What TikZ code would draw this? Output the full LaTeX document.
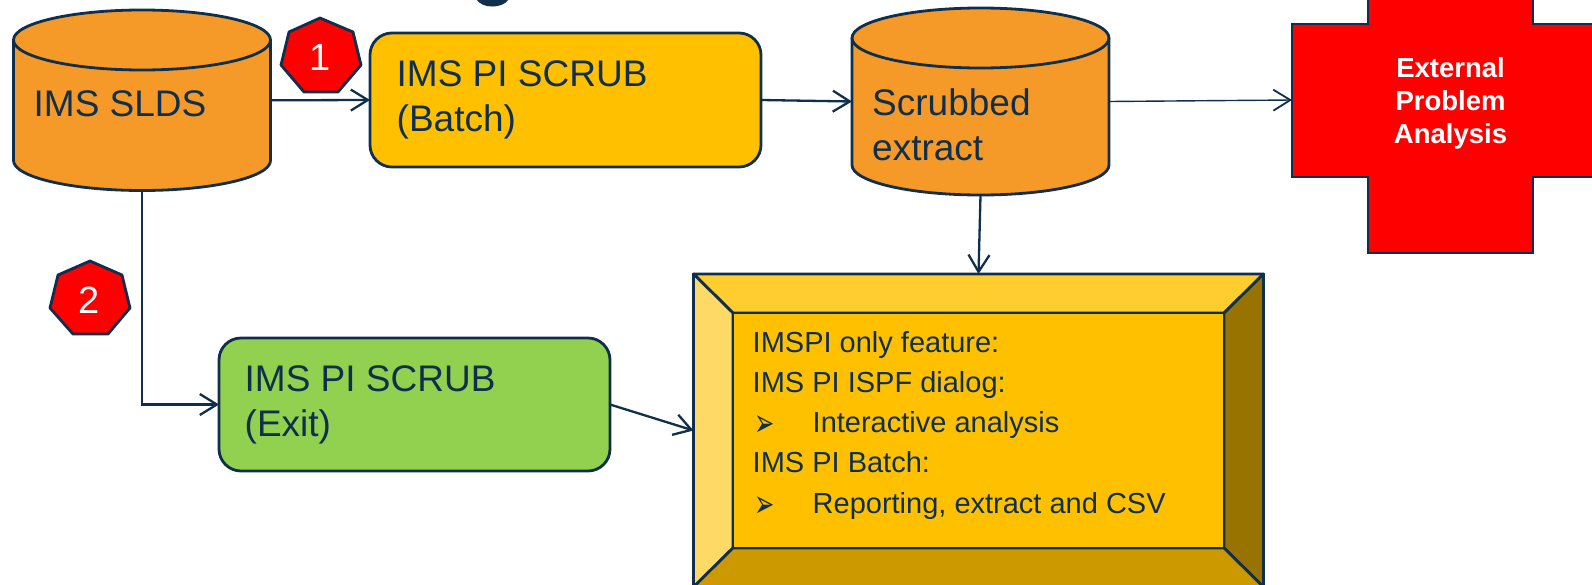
\documentclass[tikz,border=0pt]{standalone}
\usepackage{fontspec}
\setmainfont{Liberation Sans}
\newfontfamily\symfont{DejaVu Sans}
\usetikzlibrary{arrows.meta,shapes.geometric}
\definecolor{ink}{HTML}{0F2F4C}
\definecolor{cylfill}{HTML}{F59A28}
\definecolor{amber}{HTML}{FFC000}
\definecolor{leaf}{HTML}{92D050}
\definecolor{bevtop}{HTML}{FFCD2E}
\definecolor{bevleft}{HTML}{FFD966}
\definecolor{bevright}{HTML}{997300}
\definecolor{bevbottom}{HTML}{CC9A00}
\tikzset{
  x=1pt,y=-1pt,
  outline/.style={draw=ink,line width=2.8pt,line join=round},
  slot/.style={inner sep=0pt,outer sep=0pt,draw=none},
  roundbox/.style={outline,rounded corners=22pt,inner sep=0pt,outer sep=0pt},
  link/.style={draw=ink,line width=2.3pt,-{Straight Barb[length=17pt,width=21pt,line width=2.3pt]}},
  thinlink/.style={draw=ink,line width=1.4pt,-{Straight Barb[length=17pt,width=21pt,line width=1.8pt]}},
  big/.style={font=\fontsize{37}{37}\selectfont,text=ink,inner sep=0pt,anchor=base west},
  mid/.style={font=\fontsize{29}{29}\selectfont,text=ink,inner sep=0pt,anchor=base west},
  bullet/.style={font=\symfont\fontsize{27}{27}\selectfont,text=ink,inner sep=0pt,anchor=base west},
  crosstext/.style={font=\fontsize{27.5}{27.5}\selectfont\bfseries,text=white,inner sep=0pt,anchor=base},
  badgetext/.style={font=\fontsize{38}{38}\selectfont,text=white,inner sep=0pt,anchor=base},
}
\begin{document}
\begin{tikzpicture}
\useasboundingbox (0,0) rectangle (1592,584);
\clip (0,0) rectangle (1592,584);
% cropped descender of the title
\fill[ink] (477,0) .. controls (480,4) and (485,6.5) .. (492,6.5) .. controls (500,6.5) and (505,4) .. (508,0) -- cycle;

% cylinder 1
\draw[outline,fill=cylfill] (13.5,40) -- (13.5,160.5) arc[start angle=180,end angle=360,x radius=128.5pt,y radius=30pt]
   -- (270.5,40) arc[start angle=0,end angle=180,x radius=128.5pt,y radius=30pt] -- cycle;
\draw[outline] (13.5,40) arc[start angle=180,end angle=360,x radius=128.5pt,y radius=30pt];
\node[slot,minimum width=257pt,minimum height=181pt] (slds) at (142,100.3) {};
\node[big] (sldst) at (33.5,116) {IMS SLDS};

% cylinder 2
\draw[outline,fill=cylfill] (852,38) -- (852,165) arc[start angle=180,end angle=360,x radius=128.5pt,y radius=30pt]
   -- (1109,38) arc[start angle=0,end angle=180,x radius=128.5pt,y radius=30pt] -- cycle;
\draw[outline] (852,38) arc[start angle=180,end angle=360,x radius=128.5pt,y radius=30pt];
\node[slot,minimum width=257pt,minimum height=187pt] (scrub) at (980.5,101.5) {};
\node[big] (scrubta) at (872,115.5) {Scrubbed};
\node[big] (scrubtb) at (872,160.5) {extract};

% boxes
\node[roundbox,fill=amber,minimum width=391pt,minimum height=134pt] (batch) at (565.5,100) {};
\node[big] (batchta) at (396.5,86) {IMS PI SCRUB};
\node[big] (batchtb) at (396.5,131) {(Batch)};
\node[roundbox,fill=leaf,minimum width=391pt,minimum height=133pt] (exit) at (414.5,404.5) {};
\node[big] (exitta) at (244.5,391) {IMS PI SCRUB};
\node[big] (exittb) at (244.5,436) {(Exit)};

% cross
\node[slot,minimum width=317pt,minimum height=306pt] (cross) at (1450.5,100) {};
\draw[outline,line join=miter,fill=red] (1292,24) -- (1368,24) -- (1368,-53) -- (1533,-53) -- (1533,24) -- (1609,24)
   -- (1609,177) -- (1533,177) -- (1533,253) -- (1368,253) -- (1368,177) -- (1292,177) -- cycle;
\node[crosstext] (crossa) at (1450.5,77) {External};
\node[crosstext] (crossb) at (1450.5,110) {Problem};
\node[crosstext] (crossc) at (1450.5,143) {Analysis};

% bevel
\node[slot,minimum width=570pt,minimum height=313pt] (bevel) at (978.5,430.5) {};
\draw[outline,fill=bevtop] (693.5,274) -- (1263.5,274) -- (1224,313) -- (733,313) -- cycle;
\draw[outline,fill=bevleft] (693.5,274) -- (733,313) -- (733,548) -- (693.5,587) -- cycle;
\draw[outline,fill=bevright] (1263.5,274) -- (1263.5,587) -- (1224,548) -- (1224,313) -- cycle;
\draw[outline,fill=bevbottom] (733,548) -- (1224,548) -- (1263.5,587) -- (693.5,587) -- cycle;
\draw[outline,fill=amber] (733,313) rectangle (1224,548);
\node[mid] (fa) at (752.5,352) {IMSPI only feature:};
\node[mid] (fb) at (752.5,392) {IMS PI ISPF dialog:};
\node[bullet] (fc) at (754,436) {\scalebox{0.9}[1.45]{➢}};
\node[mid] (fd) at (812.5,432) {Interactive analysis};
\node[mid] (fe) at (752.5,472) {IMS PI Batch:};
\node[bullet] (ff) at (754,517) {\scalebox{0.9}[1.45]{➢}};
\node[mid] (fg) at (812.5,513) {Reporting, extract and CSV};

% badges
\draw[outline,fill=red] (320,18) -- (353,32) -- (361,65) -- (338,92) -- (304,92) -- (281,65) -- (289,32) -- cycle;
\node[badgetext] (one) at (320,70) {1};
\draw[outline,fill=red] (90,261) -- (122,275) -- (130,308) -- (108,334) -- (73,334) -- (50,308) -- (58,275) -- cycle;
\node[badgetext] (two) at (89.5,313) {2};

% connectors
\draw[link] (slds.east) -- (batch.west);
\draw[link] (batch.east) -- (scrub.west);
\draw[thinlink] (scrub.east) -- (cross.west);
\draw[link] (scrub.south) -- (bevel.north);
\draw[link] (slds.south) |- (exit.west);
\draw[link] (exit.east) -- (bevel.west);
\end{tikzpicture}
\end{document}
